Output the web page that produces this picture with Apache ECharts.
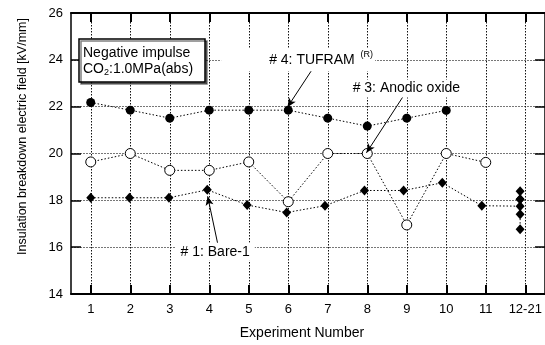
<!DOCTYPE html>
<html lang="en">
<head>
<meta charset="UTF-8">
<title>Insulation breakdown electric field</title>
<script src="https://cdn.jsdelivr.net/npm/echarts@6/dist/echarts.min.js"></script>
<style>
  html, body { margin: 0; padding: 0; background: #fff; }
  #main { width: 545px; height: 345px; }
</style>
</head>
<body>
<div id="main"></div>
<script>
// experiment numbers and tick labels
var expNo = [1, 2, 3, 4, 5, 6, 7, 8, 9, 10, 11];
var xTickValues = [1, 2, 3, 4, 5, 6, 7, 8, 9, 10, 11, 12];
var xTickLabels = ['1', '2', '3', '4', '5', '6', '7', '8', '9', '10', '11', '12-21'];
// # 4: TUFRAM (filled circles), exp 1-10
var tufram = [22.18, 21.85, 21.51, 21.85, 21.85, 21.85, 21.51, 21.17, 21.51, 21.84];
// # 3: Anodic oxide (open circles), exp 1-11
var anodic = [19.64, 20.0, 19.28, 19.28, 19.64, 17.94, 20.0, 20.0, 16.95, 20.0, 19.62];
// # 1: Bare-1 (diamonds), exp 1-11 then 12-21 stacked
var bareX = [1, 1.98, 2.98, 3.95, 4.96, 5.96, 6.93, 7.93, 8.92, 9.9, 10.9, 11.87, 11.87, 11.87, 11.87, 11.87, 11.87];
var bareY = [18.11, 18.11, 18.11, 18.45, 17.8, 17.48, 17.77, 18.42, 18.42, 18.75, 17.77, 17.75, 18.05, 18.39, 18.05, 17.41, 16.76];

var FONT = '"Liberation Sans", Arial, sans-serif';

function pairs(xs, ys) {
  var out = [];
  for (var i = 0; i < ys.length; i++) out.push([xs[i], ys[i]]);
  return out;
}

var chart = echarts.init(document.getElementById('main'), null, { renderer: 'canvas' });

var dotLine = { color: '#000', width: 1, type: [1.5, 2] };
var hGrid = { color: '#777', width: 1, type: [2, 1] };
var vGrid = { color: '#111', width: 1, type: [1.5, 1.5] };

var option = {
  backgroundColor: '#fff',
  animation: false,
  textStyle: { fontFamily: FONT, color: '#000' },
  // condition box
  title: {
    left: 79, top: 39, z: 10,
    text: 'Negative impulse\nCO{sub|2}:1.0MPa(abs)',
    padding: [6, 12, 5, 4],
    backgroundColor: '#fff', borderColor: '#000', borderWidth: 1.5,
    shadowColor: 'rgba(0,0,0,0.5)', shadowOffsetX: 2, shadowOffsetY: 2,
    textStyle: {
      fontSize: 14, fontWeight: 'normal', fontFamily: FONT, color: '#000', lineHeight: 16,
      rich: { sub: { fontSize: 9, fontFamily: FONT, color: '#000', padding: [8, 0, 0, 0] } }
    }
  },
  grid: { left: 71, right: 0, top: 13, bottom: 48.5 },
  xAxis: [{
    type: 'value', min: 0.5, max: 12.5,
    name: 'Experiment Number', nameLocation: 'middle', nameGap: 32,
    nameTextStyle: { fontSize: 14, fontFamily: FONT, color: '#000', padding: [0, 12, 0, 0] },
    axisLine: { lineStyle: { color: '#000', width: 2 } },
    axisTick: { inside: true, length: 9, customValues: xTickValues, lineStyle: { color: '#000', width: 2 } },
    axisLabel: {
      customValues: xTickValues, margin: 9, fontSize: 13, fontFamily: FONT, color: '#000',
      formatter: function (v) { return xTickLabels[Math.round(v) - 1]; }
    },
    splitLine: { show: true, lineStyle: vGrid }
  }, {
    type: 'value', min: 0.5, max: 12.5, position: 'top',
    axisLine: { lineStyle: { color: '#000', width: 2 } },
    axisTick: { inside: true, length: 9, customValues: xTickValues, lineStyle: { color: '#000', width: 2 } },
    axisLabel: { show: false },
    splitLine: { show: false }
  }],
  yAxis: [{
    type: 'value', min: 14, max: 26, interval: 2,
    name: 'Insulation breakdown electric field [kV/mm]', nameLocation: 'middle', nameGap: 42,
    nameTextStyle: { fontSize: 12.5, fontFamily: FONT, color: '#000', padding: [0, 0, 0, 34] },
    axisLine: { lineStyle: { color: '#000', width: 1.5 } },
    axisTick: { inside: true, length: 10, lineStyle: { color: '#000', width: 1.5 } },
    axisLabel: { margin: 8, fontSize: 13, fontFamily: FONT, color: '#000' },
    splitLine: { show: true, lineStyle: hGrid }
  }, {
    type: 'value', min: 14, max: 26, interval: 2, position: 'right',
    axisLine: { show: true, lineStyle: { color: '#000', width: 1.5 } },
    axisTick: { inside: true, length: 10, lineStyle: { color: '#000', width: 1.5 } },
    axisLabel: { show: false },
    splitLine: { show: false }
  }],
  series: [{
    name: '# 1: Bare-1', type: 'line', z: 3,
    data: pairs(bareX, bareY),
    symbol: 'diamond', symbolSize: [9, 10], showAllSymbol: true,
    itemStyle: { color: '#000' },
    lineStyle: dotLine,
    markPoint: {
      symbol: 'rect', symbolSize: 1, itemStyle: { color: 'rgba(0,0,0,0)' },
      data: [{
        coord: [4.15, 15.8],
        label: { show: true, position: 'inside', formatter: '# 1: Bare-1', fontSize: 14, fontFamily: FONT,
          color: '#000', backgroundColor: '#fff', padding: [2, 5] }
      }]
    },
    markLine: {
      silent: true, symbol: ['none', 'arrow'], symbolSize: [6, 9],
      lineStyle: { color: '#000', width: 1, type: 'solid' }, label: { show: false },
      data: [[{ coord: [4.21, 16.18] }, { coord: [3.96, 18.17] }]]
    }
  }, {
    name: '# 3: Anodic oxide', type: 'line', z: 3,
    data: pairs(expNo, anodic),
    symbol: 'circle', symbolSize: 10,
    itemStyle: { color: '#fff', borderColor: '#000', borderWidth: 1 },
    lineStyle: dotLine,
    markPoint: {
      symbol: 'rect', symbolSize: 1, itemStyle: { color: 'rgba(0,0,0,0)' },
      data: [{
        coord: [8.99, 22.78],
        label: { show: true, position: 'inside', formatter: '# 3: Anodic oxide', fontSize: 14, fontFamily: FONT,
          color: '#000', backgroundColor: '#fff', padding: [2, 4] }
      }]
    },
    markLine: {
      silent: true, symbol: ['none', 'arrow'], symbolSize: [6, 9],
      lineStyle: { color: '#000', width: 1, type: 'solid' }, label: { show: false },
      data: [[{ coord: [8.91, 22.44] }, { coord: [7.98, 20.03] }]]
    }
  }, {
    name: '# 4: TUFRAM', type: 'line', z: 3,
    data: pairs(expNo, tufram),
    symbol: 'circle', symbolSize: 9,
    itemStyle: { color: '#000' },
    lineStyle: dotLine,
    markPoint: {
      symbol: 'rect', symbolSize: 1, itemStyle: { color: 'rgba(0,0,0,0)' },
      data: [{
        coord: [6.25, 24.0],
        label: { show: true, position: 'inside', formatter: '# 4: TUFRAM {sup|(R)}', fontSize: 14, fontFamily: FONT,
          color: '#000', backgroundColor: '#fff', padding: [2, 2, 2, 48],
          rich: { sup: { fontSize: 9, fontFamily: FONT, color: '#000', padding: [0, 0, 10, 2] } } }
      }]
    },
    markLine: {
      silent: true, symbol: ['none', 'arrow'], symbolSize: [6, 9],
      lineStyle: { color: '#000', width: 1, type: 'solid' }, label: { show: false },
      data: [[{ coord: [6.74, 23.93] }, { coord: [5.98, 21.98] }]]
    }
  }]
};

chart.setOption(option);
</script>
</body>
</html>
